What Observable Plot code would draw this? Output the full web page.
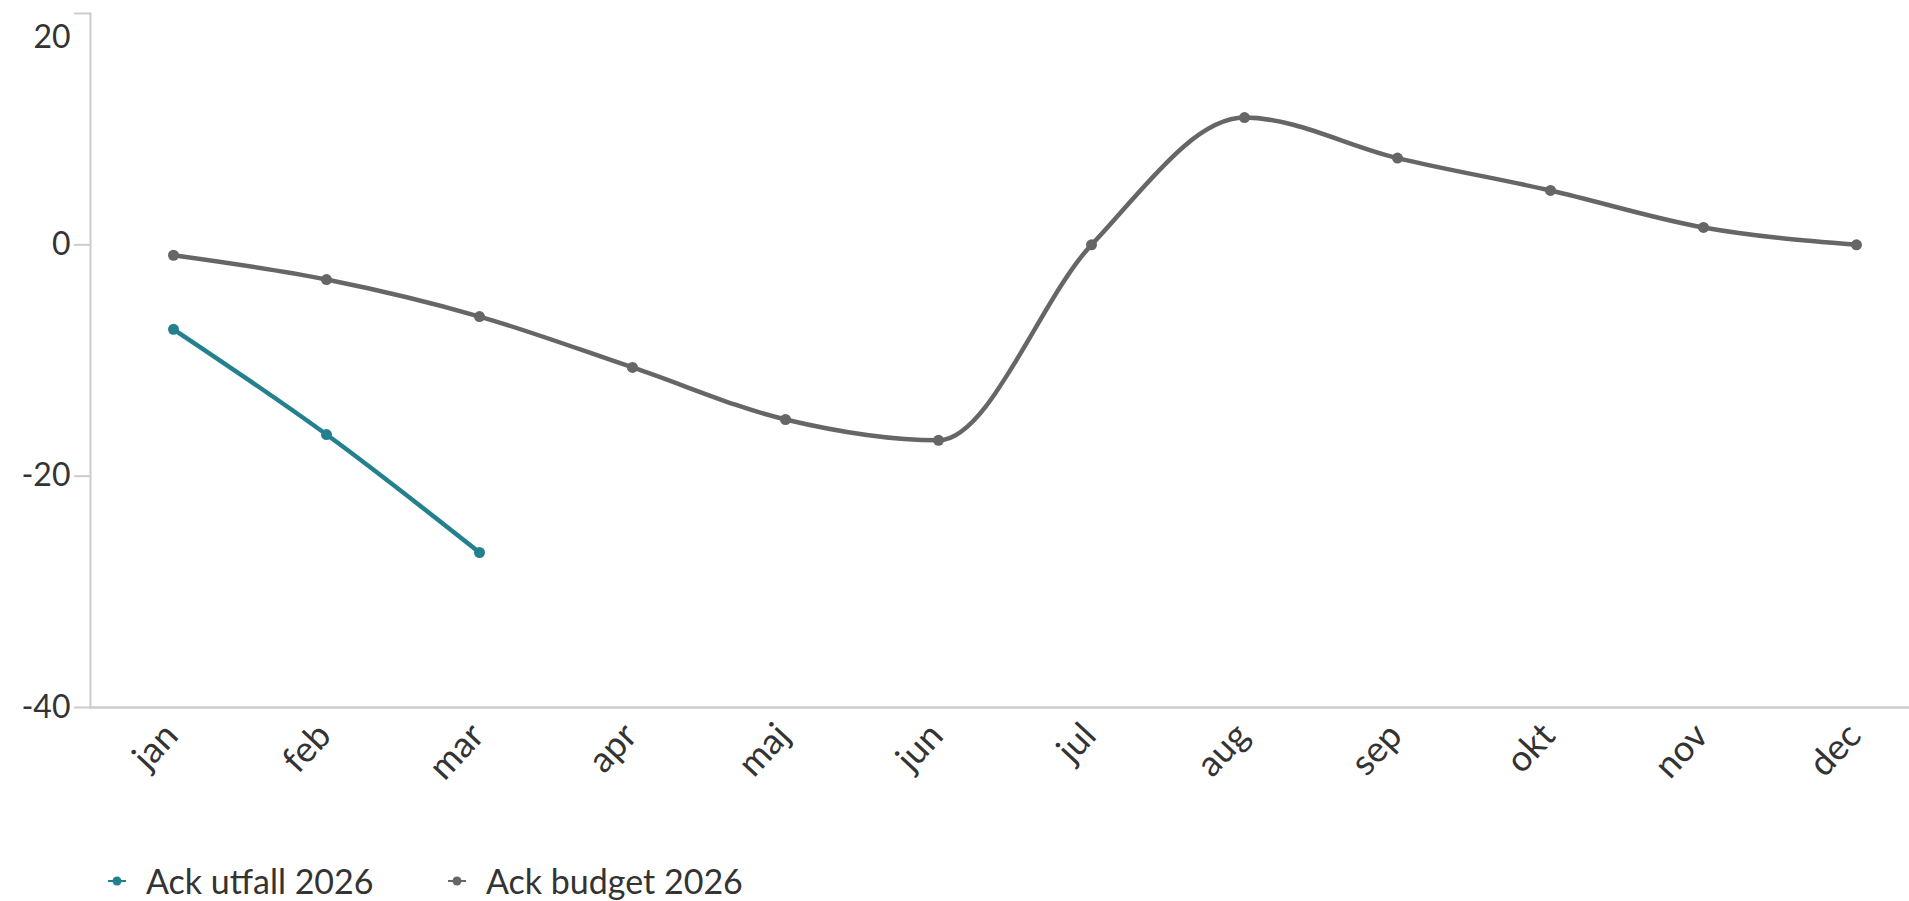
<!DOCTYPE html>
<html>
<head>
<meta charset="utf-8">
<script src="https://cdn.jsdelivr.net/npm/d3@7"></script>
<script src="https://cdn.jsdelivr.net/npm/@observablehq/plot@0.6"></script>
<style>
  html, body { margin: 0; padding: 0; background: #ffffff; }
  body { width: 1909px; height: 901px; overflow: hidden; font-family: Lato, "Open Sans", sans-serif; position: relative; }
  #legend { position: absolute; left: 0; top: 860px; font-size: 34px; color: #333333; line-height: 42px; }
  .item { display: flex; align-items: center; position: absolute; top: 0; white-space: nowrap; }
  .item svg { margin-right: 20px; }
</style>
</head>
<body>
<div id="chart"></div>
<div id="legend"></div>
<script>
const months = ["jan", "feb", "mar", "apr", "maj", "jun", "jul", "aug", "sep", "okt", "nov", "dec"];
const budget2026 = [-0.9, -3.0, -6.2, -10.6, -15.1, -16.9, 0.0, 11.0, 7.5, 4.7, 1.5, 0.0];
const utfall2026 = [-7.3, -16.4, -26.6];
const yTicks = [20, 0, -20, -40];
const seriesNames = ["Ack utfall 2026", "Ack budget 2026"];
const seriesColors = ["#23818d", "#666666"];

const rows = [
  ...budget2026.map((v, i) => ({month: months[i], value: v, series: seriesNames[1]})),
  ...utfall2026.map((v, i) => ({month: months[i], value: v, series: seriesNames[0]}))
];

const fmt = d => String(d);

const chart = Plot.plot({
  width: 1909,
  height: 820,
  marginLeft: 90,
  marginRight: 0,
  marginTop: 13,
  marginBottom: 113,
  style: {fontFamily: "Lato, 'Open Sans', sans-serif", fontSize: "32px", color: "#333333", background: "#ffffff"},
  x: {type: "point", domain: months, padding: 0.423, align: 0.608},
  y: {domain: [-40, 20]},
  color: {domain: seriesNames, range: seriesColors},
  marks: [
    Plot.frame({anchor: "left", stroke: "#cccccc", strokeWidth: 2}),
    Plot.frame({anchor: "bottom", stroke: "#cccccc", strokeWidth: 2.5}),
    Plot.axisY({ticks: yTicks, tickSize: 16, stroke: "#cccccc", strokeWidth: 2, tickFormat: () => "", label: null}),
    Plot.axisY({ticks: yTicks.slice(1), tickSize: 0, tickPadding: 20, tickFormat: fmt, color: "#333333", label: null}),
    Plot.axisY({ticks: yTicks.slice(0, 1), tickSize: 0, tickPadding: 20, dy: 24, tickFormat: fmt, color: "#333333", label: null}),
    Plot.axisX({tickSize: 0, tickRotate: -47, tickPadding: 22, dx: -2, fontSize: 36, color: "#333333", label: null}),
    Plot.line(rows, {x: "month", y: "value", z: "series", stroke: "series", strokeWidth: 4.5, curve: "monotone-x"}),
    Plot.dot(rows, {x: "month", y: "value", fill: "series", r: 5.5})
  ]
});
document.getElementById("chart").appendChild(chart);

const legend = document.getElementById("legend");
const legendLeft = [108, 448];
seriesNames.forEach((name, i) => {
  const item = document.createElement("div");
  item.className = "item";
  item.style.left = legendLeft[i] + "px";
  item.innerHTML = `<svg width="18" height="12"><line x1="0" y1="6" x2="18" y2="6" stroke="${seriesColors[i]}" stroke-width="2"/><circle cx="9" cy="6" r="4.5" fill="${seriesColors[i]}"/></svg><span>${name}</span>`;
  legend.appendChild(item);
});
</script>
</body>
</html>
